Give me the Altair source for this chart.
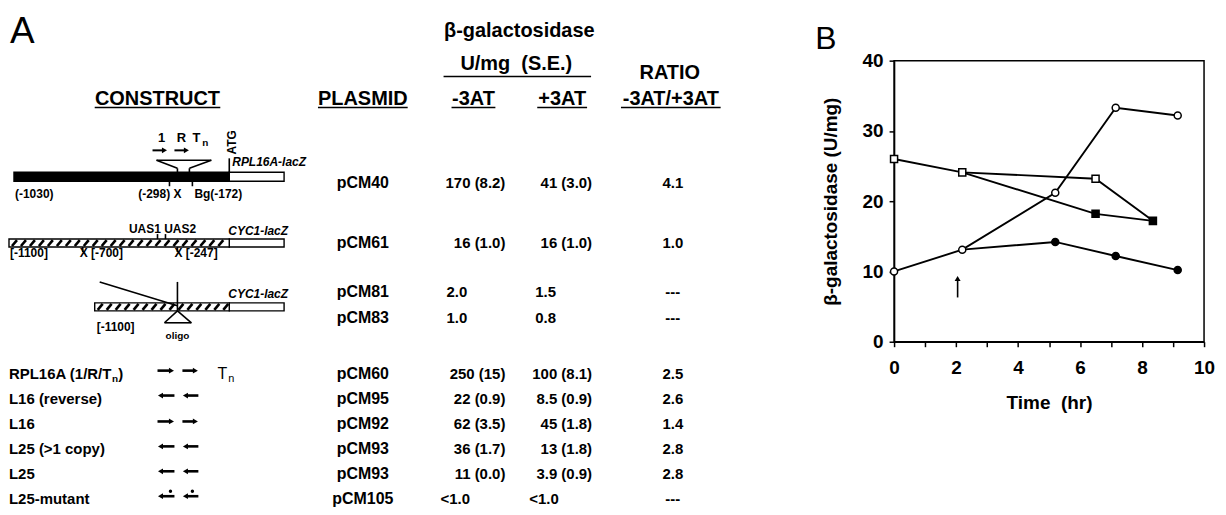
import altair as alt
import numpy as np
import pandas as pd

FONT = "Liberation Sans"

# ================= Panel B: time course =================
time_open_circle = [0.0, 2.2, 5.2, 7.15, 9.15]
value_open_circle = [10.0, 13.1, 21.2, 33.3, 32.2]
time_filled_circle = [2.2, 5.2, 7.15, 9.15]
value_filled_circle = [13.1, 14.2, 12.2, 10.2]
time_open_square = [0.0, 2.2, 6.5, 8.35]
value_open_square = [26.0, 24.1, 23.2, 17.2]
time_filled_square = [2.2, 6.5, 8.35]
value_filled_square = [24.1, 18.2, 17.2]
arrow_time = [2.05]
arrow_from = [6.3]
arrow_to = [9.0]

x_tick_values = list(range(0, 11))
y_tick_values = list(range(0, 41, 10))

# ================= Panel A: table =================
plasmids = ["pCM40", "pCM61", "pCM81", "pCM83", "pCM60", "pCM95", "pCM92", "pCM93", "pCM93", "pCM105"]
minus_3at = ["170 (8.2)", "16 (1.0)", "2.0", "1.0", "250 (15)", "22 (0.9)", "62 (3.5)", "36 (1.7)", "11 (0.0)", "<1.0"]
plus_3at = ["41 (3.0)", "16 (1.0)", "1.5", "0.8", "100 (8.1)", "8.5 (0.9)", "45 (1.8)", "13 (1.8)", "3.9 (0.9)", "<1.0"]
ratios = ["4.1", "1.0", "---", "---", "2.5", "2.6", "1.4", "2.8", "2.8", "---"]
construct_names = ["RPL16A (1/R/T", "L16 (reverse)", "L16", "L25 (>1 copy)", "L25", "L25-mutant"]
arrow_dirs = ["right", "left", "right", "left", "left", "left"]
mutant_rows = [False, False, False, False, False, True]

# ---------------- layout (page pixels) ----------------
PLOT_L, PLOT_R, PLOT_T, PLOT_B = 897, 1208, 60, 342
W, H = PLOT_R - PLOT_L, PLOT_B - PLOT_T
row_y = [183, 243, 292, 318, 374, 399, 425, 450, 475, 500]
x_name = 9
x_plasmid = 364
minus_left, minus_right = 448, 507
plus_left, plus_right = 537, 594
x_ratio = 675

PX_X = alt.Scale(domain=[PLOT_L, PLOT_R], nice=False, zero=False)
PX_Y = alt.Scale(domain=[PLOT_T, PLOT_B], nice=False, zero=False, reverse=True)

texts = []


def add(text, x, y, size, weight="bold", style="normal", align="left", baseline="middle", angle=0):
    texts.append(dict(text=text, x=x, y=y, size=size, weight=weight, style=style,
                      align=align, baseline=baseline, angle=angle))


# panel letters and headers
add("A", 10, 42, 37, weight="normal", baseline="alphabetic")
add("B", 818, 48, 32, weight="normal", baseline="alphabetic")
add("CONSTRUCT", 158, 104, 20, align="center", baseline="alphabetic")
add("PLASMID", x_plasmid, 104, 20, align="center", baseline="alphabetic")
add("β-galactosidase", 521, 36, 20, align="center", baseline="alphabetic")
add("U/mg\u00a0 (S.E.)", 518, 69, 20, align="center", baseline="alphabetic")
add("RATIO", 672, 78, 20, align="center", baseline="alphabetic")
add("-3AT", 475, 104, 20, align="center", baseline="alphabetic")
add("+3AT", 564, 104, 20, align="center", baseline="alphabetic")
add("-3AT/+3AT", 673, 104, 20, align="center", baseline="alphabetic")

underlines = [(95, 221, 107), (319, 409, 107), (445, 593, 76), (453, 497, 107), (539, 589, 107), (623, 723, 107)]

# table body
for i, yy in enumerate(row_y):
    add(plasmids[i], x_plasmid, yy, 16, align="center")
    for val, lft, rgt in ((minus_3at[i], minus_left, minus_right), (plus_3at[i], plus_left, plus_right)):
        if "(" in val:
            add(val, rgt, yy, 15, align="right")
        elif val.startswith("<"):
            add(val, lft - 6, yy, 15, align="left")
        else:
            add(val, lft, yy, 15, align="left")
    add(ratios[i], x_ratio, yy, 15, align="center")

for j, name in enumerate(construct_names):
    yy = row_y[4 + j]
    add(name, x_name, yy, 15)
    if j == 0:
        add("n", x_name + 103.4, yy + 5, 10)
        add(")", x_name + 109.6, yy, 15)
add("T", 223, row_y[4], 16, weight="normal", align="center")
add("n", 229, row_y[4] + 5, 11, weight="normal")

# diagram labels
add("1", 162, 142, 13, align="center", baseline="alphabetic")
add("R", 182, 142, 13, align="center", baseline="alphabetic")
add("T", 197, 142, 13, align="center", baseline="alphabetic")
add("n", 203, 146, 10, baseline="alphabetic")
add("ATG", 233, 142, 12, align="center", angle=270)
add("RPL16A-lacZ", 233, 166, 12, style="italic", baseline="alphabetic")
add("(-1030)", 15, 198, 12, baseline="alphabetic")
add("(-298) X", 182, 198, 12, align="right", baseline="alphabetic")
add("Bg(-172)", 195, 198, 12, baseline="alphabetic")
add("UAS1 UAS2", 163, 233, 12, align="center", baseline="alphabetic")
add("CYC1-lacZ", 229, 235, 12, style="italic", baseline="alphabetic")
add("[-1100]", 10, 257, 12, baseline="alphabetic")
add("X [-700]", 80, 257, 12, baseline="alphabetic")
add("X [-247]", 175, 257, 12, baseline="alphabetic")
add("CYC1-lacZ", 229, 298, 12, style="italic", baseline="alphabetic")
add("[-1100]", 97, 331, 12, baseline="alphabetic")
add("oligo", 178, 339, 10, align="center", baseline="alphabetic")

# bars
black_bars = [(14, 230, 172, 181)]
white_bars = [(230, 285, 172, 181), (230, 285, 239, 247), (230, 285, 303, 311),
              (9, 230, 239, 247), (95, 230, 303, 311)]
hatched_bars = [(9, 230, 239, 247), (95, 230, 303, 311)]

segments = []  # x, x2, y, y2, width
for x1, x2, yy in underlines:
    segments.append((x1, x2, yy, yy, 1.5))
for x1, y1, x2, y2 in [
    (230, 158, 230, 172),
    (157, 160, 212, 160), (157, 160, 178, 168), (212, 160, 190, 168),
    (178, 168, 178, 172), (190, 168, 190, 172),
    (170, 181, 170, 186), (193, 181, 193, 186),
    (158, 234, 158, 239), (166, 234, 166, 239),
    (83, 247, 83, 252), (178, 247, 178, 252),
    (100, 282, 178, 306), (178, 282, 178, 311),
    (178, 311, 165, 323), (178, 311, 192, 323), (165, 323, 192, 323),
]:
    segments.append((x1, x2, y1, y2, 1.6))
for x0, x1, y0, y1 in hatched_bars:
    for xs in np.arange(x0 + 3, x1 - 5, 9):
        segments.append((xs, xs + 5, y1 - 1, y0 + 1, 2.6))

# arrows: tail, tip, y, shaft width
arrows = [(153, 168, 150, 2.0), (175, 190, 150, 2.0)]
for j, d in enumerate(arrow_dirs):
    ya = row_y[4 + j] - 3
    for a, b in ((158, 175), (183, 199)):
        arrows.append((a, b, ya, 2.6) if d == "right" else (b, a, ya, 2.6))
heads = []
for tail, tip, ya, wd in arrows:
    sgn = 1 if tip > tail else -1
    segments.append((tail, tip - sgn * 4, ya, ya, wd))
    heads.append(dict(x=tip - sgn * 3, y=ya, shape="triangle-right" if sgn > 0 else "triangle-left"))
dots = [dict(x=xx, y=row_y[9] - 8) for xx in (171, 193) if mutant_rows[-1]]

# ---------------- Panel A layers ----------------
def pos():
    return dict(x=alt.X("x:Q", scale=PX_X, axis=None), y=alt.Y("y:Q", scale=PX_Y, axis=None))


def rect_layer(bars, fill):
    df = pd.DataFrame(bars, columns=["x", "x2", "y", "y2"])
    return alt.Chart(df).mark_rect(fill=fill, stroke="black", strokeWidth=1.4).encode(
        **pos(), x2="x2:Q", y2="y2:Q")


layersA = [rect_layer(white_bars, "white"), rect_layer(black_bars, "black")]

seg_df = pd.DataFrame(segments, columns=["x", "x2", "y", "y2", "w"])
for wd, grp in seg_df.groupby("w"):
    layersA.append(alt.Chart(grp).mark_rule(color="black", strokeWidth=float(wd), strokeCap="butt").encode(
        **pos(), x2="x2:Q", y2="y2:Q"))

head_df = pd.DataFrame(heads)
for shp, grp in head_df.groupby("shape"):
    layersA.append(alt.Chart(grp).mark_point(shape=shp, filled=True, color="black", size=34, opacity=1).encode(**pos()))
layersA.append(alt.Chart(pd.DataFrame(dots)).mark_point(shape="circle", filled=True, color="black", size=12, opacity=1).encode(**pos()))

text_df = pd.DataFrame(texts)
for key, grp in text_df.groupby(["size", "weight", "style", "align", "baseline", "angle"]):
    size, weight, style, align, baseline, angle = key
    layersA.append(alt.Chart(grp).mark_text(
        font=FONT, fontSize=float(size), fontWeight=weight, fontStyle=style, align=align,
        baseline=baseline, angle=float(angle), color="black").encode(**pos(), text="text:N"))

panelA = alt.layer(*layersA)

# ---------------- Panel B layers ----------------
series = [
    ("open circle", time_open_circle, value_open_circle),
    ("filled circle", time_filled_circle, value_filled_circle),
    ("open square", time_open_square, value_open_square),
    ("filled square", time_filled_square, value_filled_square),
]
line_rows = []
for name, ts, vs in series:
    for k, (t, v) in enumerate(zip(ts, vs)):
        line_rows.append(dict(series=name, t=t, v=v, order=k))
lines_df = pd.DataFrame(line_rows)

pt_rows = []
for t, v in zip(time_open_circle, value_open_circle):
    pt_rows.append(dict(t=t, v=v, shape="circle", fill="open"))
for t, v in zip(time_filled_circle[1:], value_filled_circle[1:]):
    pt_rows.append(dict(t=t, v=v, shape="circle", fill="filled"))
for t, v in zip(time_open_square[:-1], value_open_square[:-1]):
    pt_rows.append(dict(t=t, v=v, shape="square", fill="open"))
for t, v in zip(time_filled_square[1:], value_filled_square[1:]):
    pt_rows.append(dict(t=t, v=v, shape="square", fill="filled"))
pts_df = pd.DataFrame(pt_rows)

axis_common = dict(grid=False, labelFont=FONT, titleFont=FONT, labelFontSize=19, titleFontSize=19,
                   labelFontWeight="bold", titleFontWeight="bold", labelColor="black", titleColor="black",
                   domainColor="black", domainWidth=1.5, tickColor="black", tickWidth=1.5,
                   tickSize=5, labelFlush=False, labelOverlap=False)
XB = alt.X("t:Q", scale=alt.Scale(domain=[0, 10], nice=False, zero=False),
           axis=alt.Axis(values=x_tick_values, labelExpr="datum.value % 2 === 0 ? datum.label : ''",
                         title="Time\u00a0 (hr)", labelPadding=12, titlePadding=16, **axis_common))
YB = alt.Y("v:Q", scale=alt.Scale(domain=[0, 40], nice=False, zero=False),
           axis=alt.Axis(values=y_tick_values, title="β-galactosidase (U/mg)", labelPadding=6,
                         titlePadding=22, **axis_common))

lines = alt.Chart(lines_df).mark_line(color="black", strokeWidth=1.9).encode(
    x=XB, y=YB, detail="series:N", order="order:Q")
points = alt.Chart(pts_df).mark_point(filled=True, size=50, stroke="black", strokeWidth=1.5, opacity=1).encode(
    x=XB, y=YB,
    shape=alt.Shape("shape:N", scale=alt.Scale(domain=["circle", "square"], range=["circle", "square"]), legend=None),
    fill=alt.Fill("fill:N", scale=alt.Scale(domain=["open", "filled"], range=["white", "black"]), legend=None))
arrow_df = pd.DataFrame(dict(t=arrow_time, v=arrow_from, v2=arrow_to))
arrow_shaft = alt.Chart(arrow_df).mark_rule(color="black", strokeWidth=1.6).encode(x=XB, y=YB, y2="v2:Q")
arrow_head = alt.Chart(arrow_df).mark_point(shape="triangle-up", filled=True, color="black", size=36, opacity=1).encode(
    x=XB, y=alt.Y("v2:Q", scale=alt.Scale(domain=[0, 40], nice=False, zero=False)))

panelB = alt.layer(lines, arrow_shaft, arrow_head, points)

chart = alt.layer(panelB, panelA).resolve_scale(x="independent", y="independent").properties(
    width=W, height=H,
    padding={"left": PLOT_L - 8, "top": PLOT_T - 8, "right": 14, "bottom": 165},
    autosize=alt.AutoSizeParams(type="none"),
    background="white",
).configure_view(stroke="black", strokeWidth=1.5)

chart.save("out.html", embed_options={"renderer": "svg", "actions": False})
